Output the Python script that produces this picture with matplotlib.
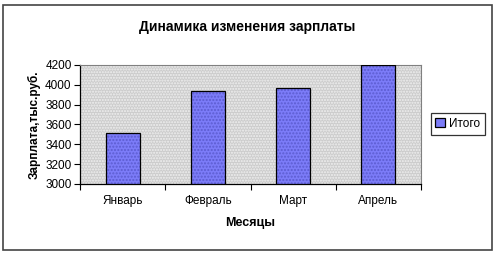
import matplotlib.pyplot as plt
from matplotlib.patches import Rectangle

plt.rcParams['font.family'] = ['Liberation Sans', 'DejaVu Sans']

months = ['Январь', 'Февраль', 'Март', 'Апрель']
salary = [3510, 3940, 3970, 4200]
yticks = [3000, 3200, 3400, 3600, 3800, 4000, 4200]

fig = plt.figure(figsize=(4.95, 2.54), dpi=100)

# chart area frame
fig.patches.append(Rectangle((0.006, 0.016), 0.988, 0.966, transform=fig.transFigure,
                             fill=False, edgecolor='#444444', linewidth=1.2))

ax = fig.add_axes([0.1616, 0.2756, 0.689, 0.4685])
ax.set_facecolor('#cccccc')
ax.add_patch(Rectangle((0, 0), 1, 1, transform=ax.transAxes, facecolor='none',
                       edgecolor='#f0f0f0', hatch='......', linewidth=0, zorder=0))

x = range(len(months))
# patterned fill
ax.bar(x, salary, width=0.4, bottom=0, color='#7c7cf8', edgecolor='#5c5cd0',
       hatch='.....', linewidth=0, zorder=2)
# outline
ax.bar(x, salary, width=0.4, fill=False, edgecolor='black', linewidth=0.9,
       zorder=3, label='Итого')

ax.set_xlim(-0.5, 3.5)
ax.set_ylim(3000, 4200)
ax.set_yticks(yticks)
ax.set_yticklabels([str(v) for v in yticks], fontsize=8.5)
ax.set_xticks([-0.5, 0.5, 1.5, 2.5, 3.5])
ax.set_xticklabels([])
ax.set_xticks(list(x), minor=True)
ax.set_xticklabels(months, minor=True, fontsize=8.5)
ax.tick_params(axis='x', which='minor', length=0, pad=8)
ax.tick_params(axis='x', which='major', length=4, direction='out')
ax.tick_params(axis='y', length=4, direction='out', pad=2)

for s in ['top', 'right']:
    ax.spines[s].set_color('#808080')
    ax.spines[s].set_linewidth(0.8)
for s in ['left', 'bottom']:
    ax.spines[s].set_color('black')
    ax.spines[s].set_linewidth(0.9)

ax.set_xlabel('Месяцы', fontsize=9, fontweight='bold', labelpad=7)
ax.set_ylabel('Зарплата,тыс.руб.', fontsize=8.5, fontweight='bold', labelpad=3)
fig.text(0.5, 0.893, 'Динамика изменения зарплаты', ha='center', va='center',
         fontsize=10, fontweight='bold')

leg = fig.legend(loc='center', bbox_to_anchor=(0.925, 0.512), fontsize=8.5,
                 frameon=True, fancybox=False, edgecolor='black',
                 handlelength=0.8, handleheight=0.8, handletextpad=0.4,
                 borderpad=0.4, borderaxespad=0)
leg.get_frame().set_linewidth(0.9)
for h in leg.legend_handles:
    h.set_facecolor('#7c7cf8')
    h.set_fill(True)

fig.savefig('out.png', dpi=100)
